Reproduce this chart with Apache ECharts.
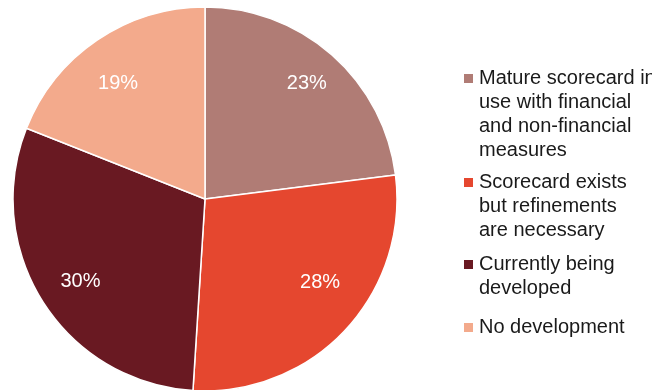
<!DOCTYPE html>
<html>
<head>
<meta charset="utf-8">
<script src="https://cdn.jsdelivr.net/npm/echarts@6/dist/echarts.min.js"></script>
<style>
  html, body { margin: 0; padding: 0; background: #ffffff; }
  #chart { width: 652px; height: 390px; }
</style>
</head>
<body>
<div id="chart"></div>
<script>
// Status of scorecard adoption (share of respondents, %)
const categories = [
  'Mature scorecard in use with financial and non-financial measures',
  'Scorecard exists but refinements are necessary',
  'Currently being developed',
  'No development'
];
const values = [23, 28, 30, 19];
const colors = ['#b07c75', '#e5472f', '#691922', '#f3aa8c'];

// Wrapped legend text, one entry per category
const legendLines = [
  ['Mature scorecard in', 'use with financial', 'and non-financial', 'measures'],
  ['Scorecard exists', 'but refinements', 'are necessary'],
  ['Currently being', 'developed'],
  ['No development']
];

// Small nudges for the percentage labels inside the slices
const labelOffsets = [[2, -2], [5, -20], [3, 2], [-2, 9]];

const FONT = '"Liberation Sans", Arial, Helvetica, sans-serif';
const LINE_H = 24;
const iconTops = [73, 177, 259, 322];

const pieData = categories.map((name, i) => ({
  name,
  value: values[i],
  itemStyle: { color: colors[i] }
}));

// One legend block per category; blank leading lines keep the swatch level
// with the first line of its (vertically centred) text block.
const legends = categories.map((name, i) => {
  const n = legendLines[i].length;
  return {
    orient: 'vertical',
    left: 462,
    top: iconTops[i] - LINE_H * n + 17.5,
    padding: 0,
    itemWidth: 11,
    itemHeight: 11,
    icon: 'rect',
    selectedMode: false,
    data: [name],
    formatter: () => '\n'.repeat(n - 1) + legendLines[i].join('\n'),
    textStyle: {
      fontFamily: FONT,
      fontSize: 20,
      lineHeight: LINE_H,
      color: '#1a1a1a'
    }
  };
});

const chart = echarts.init(document.getElementById('chart'), null, { renderer: 'canvas' });
chart.setOption({
  backgroundColor: '#ffffff',
  animation: false,
  legend: legends,
  series: [
    {
      type: 'pie',
      center: [205, 199],
      radius: [0, 192],
      startAngle: 90,
      clockwise: true,
      silent: true,
      label: { show: false },
      labelLine: { show: false },
      itemStyle: { borderColor: '#ffffff', borderWidth: 1.5 },
      emphasis: { disabled: true },
      data: pieData
    },
    {
      // Transparent ring that carries the percentage labels
      type: 'pie',
      center: [205, 199],
      radius: [104, 192],
      startAngle: 90,
      clockwise: true,
      silent: true,
      itemStyle: { color: 'rgba(0,0,0,0)', borderWidth: 0 },
      emphasis: { disabled: true },
      labelLine: { show: false },
      label: {
        show: true,
        position: 'inside',
        formatter: '{c}%',
        fontFamily: FONT,
        fontSize: 20,
        fontWeight: 'normal',
        color: '#ffffff'
      },
      data: categories.map((name, i) => ({
        name,
        value: values[i],
        label: { offset: labelOffsets[i] }
      }))
    }
  ]
});
</script>
</body>
</html>
